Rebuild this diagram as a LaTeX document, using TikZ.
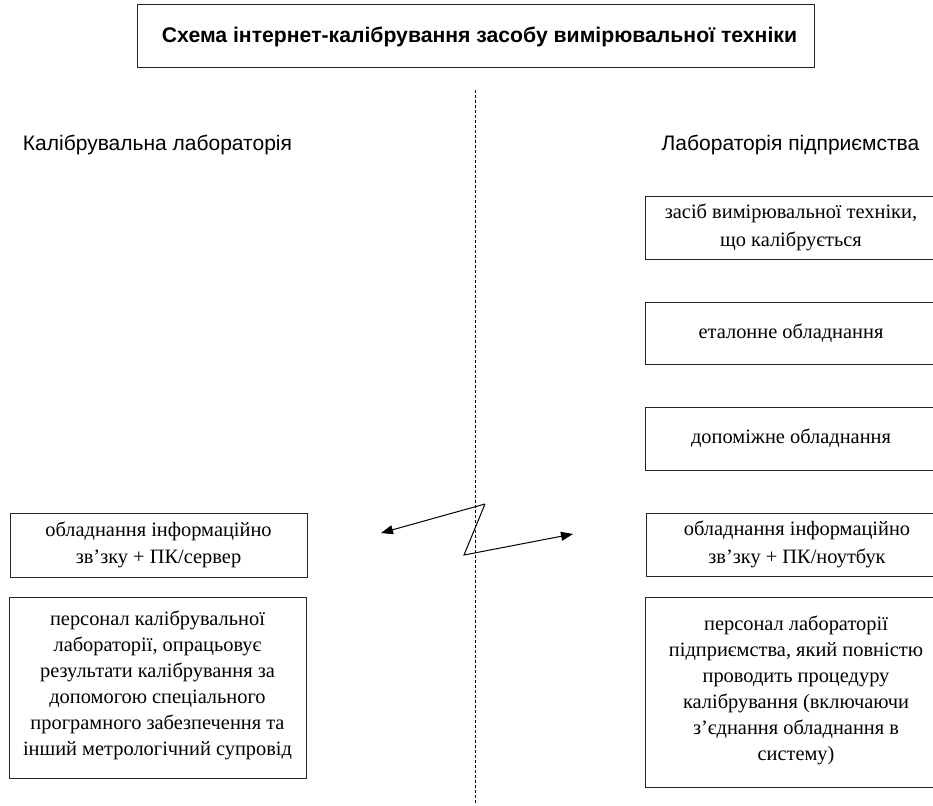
\documentclass[tikz,border=0pt]{standalone}
\usepackage{fontspec}
\setmainfont{Liberation Serif}
\newfontfamily\labsans{Liberation Sans}
\usetikzlibrary{arrows.meta}
\tikzset{
  boxline/.style={draw=black!85, line width=1pt},
  sertext/.style={font=\fontsize{20.4}{26}\selectfont, align=center},
  sertextb/.style={font=\fontsize{20.4}{27.5}\selectfont, align=center},
  labtext/.style={font=\labsans\fontsize{21}{24}\selectfont, inner sep=0pt},
  titletext/.style={font=\labsans\bfseries\fontsize{21.2}{24}\selectfont, inner sep=0pt},
  link/.style={line width=1pt, line join=miter},
  tip/.style={-{Triangle[length=12pt,width=9pt]}}
}
\begin{document}
\begin{tikzpicture}[x=1pt,y=-1pt]
\useasboundingbox (0,0) rectangle (933,805);
% title
\draw[boxline] (137,5) rectangle (814,68);
\node[titletext] (title) at (479.5,37) {Схема інтернет-калібрування засобу вимірювальної техніки};
% dashed divider
\coordinate (dtop) at (475.5,90);
\coordinate (dbot) at (475.5,805);
\draw[line width=0.9pt, dash pattern=on 3pt off 2pt] (dtop) -- (dbot);
% side labels
\node[labtext] (llab) at (157.5,145) {Калібрувальна лабораторія};
\node[labtext] (rlab) at (790.5,145) {Лабораторія підприємства};
% right boxes
\draw[boxline] (645,196) rectangle (948,259);
\node[sertextb] (r1) at (791,227.5) {засіб вимірювальної техніки,\\що калібрується};
\draw[boxline] (645,302) rectangle (948,364);
\node[sertext] (r2) at (791,333) {еталонне обладнання};
\draw[boxline] (645,407) rectangle (948,470);
\node[sertext] (r3) at (791,438.5) {допоміжне обладнання};
\draw[boxline] (646,513) rectangle (948,576);
\node[sertextb] (r4) at (797,544.5) {обладнання інформаційно\\зв’зку + ПК/ноутбук};
\draw[boxline] (645,597) rectangle (948,787);
\node[sertext] (r5) at (796,690) {персонал лабораторії\\підприємства, який повністю\\проводить процедуру\\калібрування (включаючи\\з’єднання обладнання в\\систему)};
% left boxes
\draw[boxline] (10,513) rectangle (307,577);
\node[sertextb] (l1) at (158.5,545) {обладнання інформаційно\\зв’зку + ПК/сервер};
\draw[boxline] (9,597) rectangle (306,778);
\node[sertext] (l2) at (157.5,685) {персонал калібрувальної\\лабораторії, опрацьовує\\результати калібрування за\\допомогою спеціального\\програмного забезпечення та\\інший метрологічний супровід};
% lightning link
\coordinate (lt) at (381,533);
\coordinate (zu) at (485,504);
\coordinate (zd) at (464,555);
\coordinate (rt) at (573,534);
\draw[link,tip] (zu) -- (lt);
\draw[link,tip] (zu) -- (zd) -- (rt);
\end{tikzpicture}
\end{document}
